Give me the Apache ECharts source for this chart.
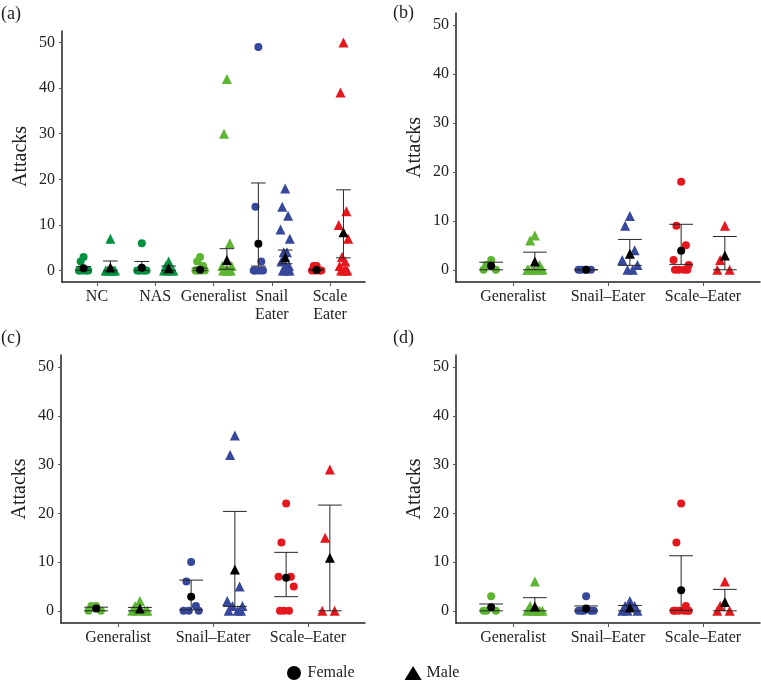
<!DOCTYPE html>
<html>
<head>
<meta charset="utf-8">
<script src="https://cdn.jsdelivr.net/npm/echarts@6/dist/echarts.min.js"></script>
<style>
  html, body { margin: 0; padding: 0; background: #fff; }
  #chart { width: 761px; height: 683px; }
</style>
</head>
<body>
<div id="chart"></div>
<script>
  // ---- data ----
  const categoriesA = ['NC', 'NAS', 'Generalist', 'Snail\nEater', 'Scale\nEater']
  const categoriesBCD = ['Generalist', 'Snail–Eater', 'Scale–Eater']
  const yTicks = [0, 10, 20, 30, 40, 50]

  // (a)
  const femaleA = [[3, 2, 0, 0, 0, 0, 0, 0], [6, 0, 0, 0, 0, 0, 0], [3, 2, 1, 0, 0, 0, 0, 0], [49, 14, 2, 0, 0, 0, 0, 0], [1, 1, 0, 0, 0, 0]]
  const femaleMeanA = [0.5, 0.6, 0.2, 5.9, 0.15]
  const femaleLowA = [0.05, 0, 0, 1.0, 0]
  const femaleHighA = [0.9, 2.0, 0.55, 19.2, 0.3]
  const maleA = [[7, 0, 0, 0, 0, 0, 0], [2, 1, 0, 0, 0, 0], [42, 30, 6, 1, 1, 0, 0, 0, 0, 0], [18, 14, 12, 9, 7, 4, 4, 2, 1, 1, 0, 0, 0, 0], [50, 39, 13, 10, 7, 3, 2, 1, 0, 0, 0, 0]]
  const maleMeanA = [0.7, 0.5, 2.3, 2.9, 8.4]
  const maleLowA = [0, 0, 0.3, 1.5, 2.8]
  const maleHighA = [2.1, 1.0, 4.8, 4.5, 17.7]

  // (b)
  const femaleB = [[2, 1, 0, 0], [0, 0, 0, 0], [18, 9, 5, 2, 1, 0, 0, 0, 0]]
  const femaleMeanB = [0.8, 0, 3.9]
  const femaleLowB = [0, 0, 1.1]
  const femaleHighB = [1.55, 0, 9.3]
  const maleB = [[7, 6, 1, 0, 0, 0, 0, 0], [11, 9, 4, 2, 1, 0, 0], [9, 2, 0, 0]]
  const maleMeanB = [1.7, 3.3, 2.9]
  const maleLowB = [0, 0.9, 0]
  const maleHighB = [3.6, 6.2, 6.8]

  // (c)
  const femaleC = [[1, 1, 0, 0], [10, 6, 1, 0, 0, 0], [22, 14, 7, 7, 5, 0, 0, 0]]
  const femaleMeanC = [0.5, 2.9, 6.8]
  const femaleLowC = [0, 0.2, 2.9]
  const femaleHighC = [0.75, 6.3, 12.0]
  const maleC = [[2, 1, 0, 0, 0, 0], [36, 32, 5, 2, 1, 1, 0, 0, 0], [29, 15, 0, 0]]
  const maleMeanC = [0.5, 8.5, 10.9]
  const maleLowC = [0, 0.9, 0]
  const maleHighC = [0.7, 20.4, 21.7]

  // (d)
  const femaleD = [[3, 0, 0, 0], [3, 0, 0, 0, 0, 0], [22, 14, 1, 0, 0, 0, 0, 0, 0]]
  const femaleMeanD = [0.75, 0.5, 4.2]
  const femaleLowD = [0, 0, 0.1]
  const femaleHighD = [1.4, 1.0, 11.3]
  const maleD = [[6, 1, 0, 0, 0, 0, 0], [2, 1, 1, 0, 0, 0], [6, 1, 0, 0]]
  const maleMeanD = [0.9, 0.7, 1.8]
  const maleLowD = [0, 0, 0]
  const maleHighD = [2.7, 1.1, 4.4]

  // ---- styling / layout ----
  const GREEN = '#00923f'
  const LIGHT = '#5db531'
  const BLUE = '#36479c'
  const RED = '#e6161d'
  const FONT = 'Liberation Serif'
  const dodge = 0.23
  const capWidth = 0.25
  // fixed horizontal spread for overlapping points (category units)
  const jitter = [0, -0.05, 0.05, -0.08, 0.08, -0.025, 0.03, -0.065, 0.065, 0.012, -0.04, 0.04, -0.015, 0.075, -0.075, 0.02]

  const panels = [
    { label: '(a)', labelPos: [1, 5], cats: categoriesA, colors: [GREEN, GREEN, LIGHT, BLUE, RED],
      grid: { left: 62, top: 31, width: 303, height: 251 },
      female: [femaleA, femaleMeanA, femaleLowA, femaleHighA], male: [maleA, maleMeanA, maleLowA, maleHighA] },
    { label: '(b)', labelPos: [393, 4], cats: categoriesBCD, colors: [LIGHT, BLUE, RED],
      grid: { left: 456, top: 13, width: 304, height: 269 },
      female: [femaleB, femaleMeanB, femaleLowB, femaleHighB], male: [maleB, maleMeanB, maleLowB, maleHighB] },
    { label: '(c)', labelPos: [1, 329], cats: categoriesBCD, colors: [LIGHT, BLUE, RED],
      grid: { left: 61, top: 355, width: 304, height: 268 },
      female: [femaleC, femaleMeanC, femaleLowC, femaleHighC], male: [maleC, maleMeanC, maleLowC, maleHighC] },
    { label: '(d)', labelPos: [393, 329], cats: categoriesBCD, colors: [LIGHT, BLUE, RED],
      grid: { left: 456, top: 355, width: 304, height: 268 },
      female: [femaleD, femaleMeanD, femaleLowD, femaleHighD], male: [maleD, maleMeanD, maleLowD, maleHighD] }
  ]

  function renderErrorBar(params, api) {
    const x = api.value(0)
    const lo = api.coord([x, api.value(1)])
    const hi = api.coord([x, api.value(2)])
    const half = api.size([capWidth, 0])[0] / 2
    const style = { stroke: '#262626', lineWidth: 1 }
    return {
      type: 'group',
      children: [
        { type: 'line', shape: { x1: lo[0], y1: lo[1], x2: hi[0], y2: hi[1] }, style },
        { type: 'line', shape: { x1: lo[0] - half, y1: lo[1], x2: lo[0] + half, y2: lo[1] }, style },
        { type: 'line', shape: { x1: hi[0] - half, y1: hi[1], x2: hi[0] + half, y2: hi[1] }, style }
      ]
    }
  }

  const grids = []
  const xAxes = []
  const yAxes = []
  const series = []
  const graphics = []

  panels.forEach((p, gi) => {
    const n = p.cats.length
    grids.push(p.grid)
    xAxes.push({
      type: 'value',
      gridIndex: gi,
      min: 0.4,
      max: n + 0.6,
      splitLine: { show: false },
      axisLine: { onZero: false, lineStyle: { color: '#222', width: 1.5 } },
      axisTick: { customValues: p.cats.map((c, i) => i + 1), length: 4, lineStyle: { color: '#555' } },
      axisLabel: {
        customValues: p.cats.map((c, i) => i + 1),
        formatter: v => p.cats[Math.round(v) - 1] || '',
        fontFamily: FONT, fontSize: 16, color: '#222', lineHeight: 18, margin: 6
      }
    })
    yAxes.push({
      type: 'value',
      gridIndex: gi,
      min: -2.5,
      max: 52.5,
      name: 'Attacks',
      nameLocation: 'middle',
      nameRotate: 90,
      nameGap: 31,
      nameTextStyle: { fontFamily: FONT, fontSize: 20, color: '#222' },
      splitLine: { show: false },
      axisLine: { show: true, onZero: false, lineStyle: { color: '#222', width: 1.5 } },
      axisTick: { show: true, customValues: yTicks, length: 3, lineStyle: { color: '#555' } },
      axisLabel: { customValues: yTicks, fontFamily: FONT, fontSize: 16, color: '#222', margin: 7 }
    })

    const sexes = [
      { name: 'Female', symbol: 'circle', size: 8, d: p.female, shift: -dodge },
      { name: 'Male', symbol: 'triangle', size: 10, d: p.male, shift: dodge }
    ]
    sexes.forEach(s => {
      const [vals, means, lows, highs] = s.d
      const pts = []
      vals.forEach((arr, ci) => {
        arr.forEach((v, k) => {
          pts.push({ value: [ci + 1 + s.shift + jitter[k % jitter.length], v], itemStyle: { color: p.colors[ci], opacity: 1 } })
        })
      })
      series.push({
        type: 'scatter', xAxisIndex: gi, yAxisIndex: gi,
        symbol: s.symbol, symbolSize: s.size, data: pts, z: 2, silent: true,
        itemStyle: { opacity: 1 }
      })
      series.push({
        type: 'custom', xAxisIndex: gi, yAxisIndex: gi,
        renderItem: renderErrorBar,
        encode: { x: 0, y: [1, 2] },
        data: means.map((m, ci) => [ci + 1 + s.shift, lows[ci], highs[ci]]),
        z: 3, silent: true
      })
      series.push({
        type: 'scatter', name: s.name, xAxisIndex: gi, yAxisIndex: gi,
        symbol: s.symbol, symbolSize: s.size,
        itemStyle: { color: '#000', opacity: 1 },
        data: means.map((m, ci) => [ci + 1 + s.shift, m]),
        z: 4, silent: true
      })
    })

    graphics.push({
      type: 'text', left: p.labelPos[0], top: p.labelPos[1],
      style: { text: p.label, font: '18px "Liberation Serif"', fill: '#222' }
    })
  })

  const chart = echarts.init(document.getElementById('chart'))
  chart.setOption({
    animation: false,
    backgroundColor: '#fff',
    grid: grids,
    xAxis: xAxes,
    yAxis: yAxes,
    series: series,
    graphic: graphics,
    legend: {
      data: [{ name: 'Female', icon: 'circle' }, { name: 'Male', icon: 'triangle' }],
      left: 287,
      top: 665,
      padding: 0,
      itemWidth: 17,
      itemHeight: 14,
      itemGap: 50,
      selectedMode: false,
      textStyle: { fontFamily: FONT, fontSize: 16, color: '#222' }
    }
  })
</script>
</body>
</html>
